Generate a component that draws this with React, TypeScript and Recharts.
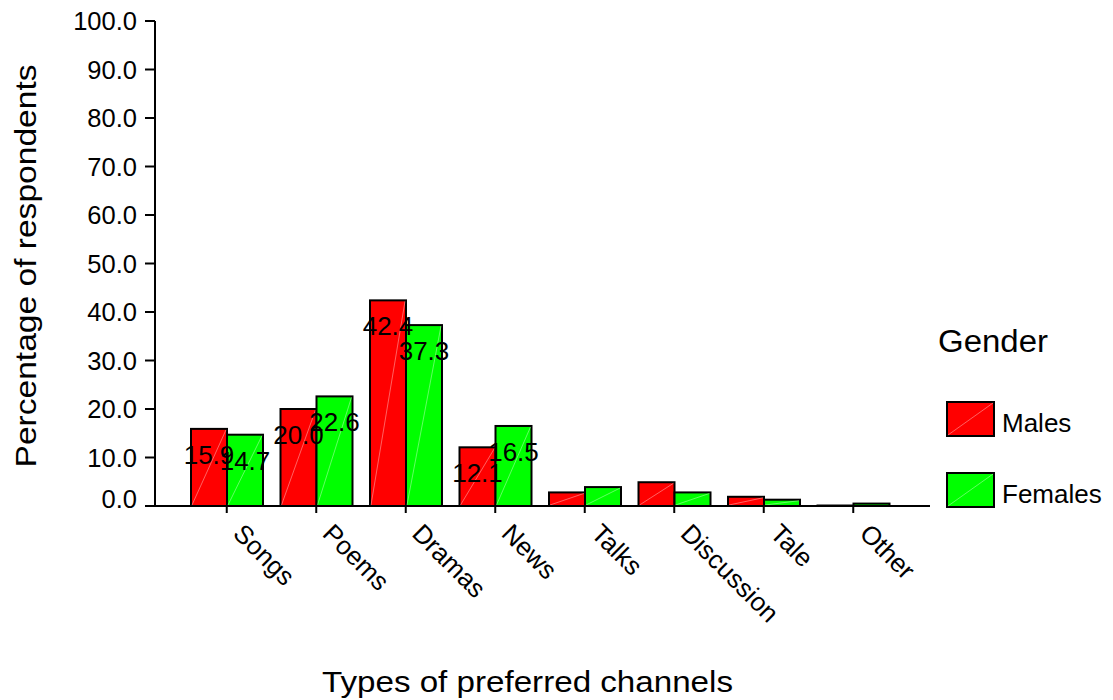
import React from "react";
import { BarChart, Bar, XAxis, YAxis, Legend, LabelList } from "recharts";

const categories = ["Songs", "Poems", "Dramas", "News", "Talks", "Discussion", "Tale", "Other"];
const males = [15.9, 20.0, 42.4, 12.1, 2.8, 4.9, 1.9, 0.1];
const females = [14.7, 22.6, 37.3, 16.5, 3.9, 2.8, 1.3, 0.5];
const labeledCategories = ["Songs", "Poems", "Dramas", "News"];
const yTicks = [0, 10, 20, 30, 40, 50, 60, 70, 80, 90, 100];
const seriesNames = ["Males", "Females"];
const seriesColors = ["#FF0000", "#00FF00"];

const data = categories.map((c, i) => ({ name: c, Males: males[i], Females: females[i] }));

const FONT = "'Liberation Sans', Arial, Helvetica, sans-serif";

const BarShape = (props: any) => {
  const { x, y, width, height, fill } = props;
  if (width == null || height == null) return null;
  return (
    <g>
      <rect x={x} y={y} width={width} height={Math.max(height, 0)} fill={fill} stroke="#000" strokeWidth={2} />
      {height > 3 && (
        <line x1={x + 1} y1={y + height - 1} x2={x + width - 1} y2={y + 1} stroke="#fff" strokeOpacity={0.55} strokeWidth={0.7} />
      )}
    </g>
  );
};

const makeLabel = () => (props: any) => {
  const { x, y, width, value, index } = props;
  if (!labeledCategories.includes(categories[index])) return null;
  return (
    <text x={x + width / 2} y={y + 35} textAnchor="middle" fontSize={26} fontFamily={FONT} fill="#000">
      {Number(value).toFixed(1)}
    </text>
  );
};

const YTick = (props: any) => {
  const { x, y, payload } = props;
  const yy = payload.value === 0 ? y - 7 : y;
  return (
    <text x={x} y={yy + 9} textAnchor="end" fontSize={25.5} fontFamily={FONT} fill="#000">
      {Number(payload.value).toFixed(1)}
    </text>
  );
};

const XTick = (props: any) => {
  const { x, y, payload } = props;
  return (
    <g transform={`translate(${x},${y - 7})`}>
      <text x={24} y={17} transform="rotate(45)" textAnchor="start" fontSize={26} fontFamily={FONT} fill="#000">
        {payload.value}
      </text>
    </g>
  );
};

const YTitle = () => (
  <text
    x={36}
    y={266}
    transform="rotate(-90, 36, 266)"
    textAnchor="middle"
    fontSize={29}
    fontFamily={FONT}
    fill="#000"
    textLength={403}
    lengthAdjust="spacingAndGlyphs"
  >
    Percentage of respondents
  </text>
);

const XTitle = () => (
  <text
    x={527.5}
    y={692}
    textAnchor="middle"
    fontSize={29}
    fontFamily={FONT}
    fill="#000"
    textLength={411}
    lengthAdjust="spacingAndGlyphs"
  >
    Types of preferred channels
  </text>
);

const LegendContent = () => {
  return (
    <svg width={183} height={210} style={{ overflow: "visible" }}>
      <text x={8} y={42} fontSize={31} fontFamily={FONT} fill="#000" textLength={110} lengthAdjust="spacingAndGlyphs">
        Gender
      </text>
      {seriesNames.map((name, i) => {
        const top = 92 + i * 71;
        return (
          <g key={name}>
            <rect x={17} y={top} width={47} height={34} fill={seriesColors[i]} stroke="#000" strokeWidth={2} />
            <line x1={18} y1={top + 33} x2={63} y2={top + 1} stroke="#fff" strokeOpacity={0.55} strokeWidth={0.7} />
            <text x={72} y={top + 30} fontSize={26} fontFamily={FONT} fill="#000">
              {name}
            </text>
          </g>
        );
      })}
    </svg>
  );
};

export default function App() {
  return (
    <div style={{ position: "absolute", left: 0, top: 0, width: 1113, height: 700, background: "#fff" }}>
      <BarChart
        width={1113}
        height={700}
        data={data}
        margin={{ top: 21, right: 183, left: 0, bottom: 4 }}
        barCategoryGap={9}
        barGap={0}
      >
        <XAxis
          dataKey="name"
          height={190}
          padding={{ left: 27, right: 32 }}
          axisLine={{ stroke: "#000", strokeWidth: 2 }}
          tickLine={{ stroke: "#000", strokeWidth: 2 }}
          tickSize={7}
          tickMargin={0}
          interval={0}
          tick={<XTick />}
          label={<XTitle />}
        />
        <YAxis
          width={155}
          domain={[0, 100]}
          ticks={yTicks}
          interval={0}
          axisLine={{ stroke: "#000", strokeWidth: 2 }}
          tickLine={{ stroke: "#000", strokeWidth: 2 }}
          tickSize={10}
          tickMargin={8}
          tick={<YTick />}
          label={<YTitle />}
        />
        <Legend
          layout="horizontal"
          verticalAlign="middle"
          align="center"
          wrapperStyle={{ left: 930, top: 310, width: 183, height: 210 }}
          content={<LegendContent />}
        />
        <Bar dataKey="Males" name="Males" fill={seriesColors[0]} shape={<BarShape />} isAnimationActive={false}>
          <LabelList dataKey="Males" content={makeLabel()} />
        </Bar>
        <Bar dataKey="Females" name="Females" fill={seriesColors[1]} shape={<BarShape />} isAnimationActive={false}>
          <LabelList dataKey="Females" content={makeLabel()} />
        </Bar>
      </BarChart>
    </div>
  );
}
